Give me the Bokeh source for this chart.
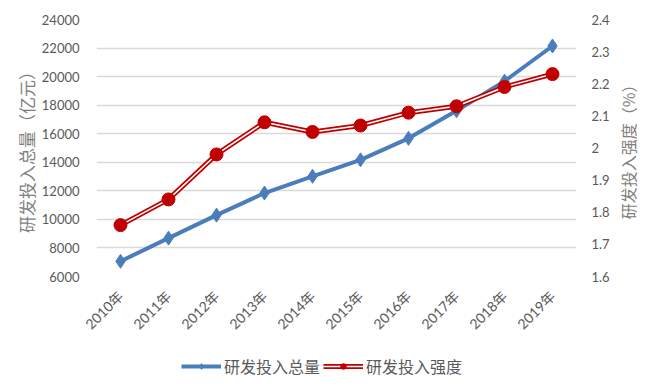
from bokeh.plotting import figure
from bokeh.models import Range1d, LinearAxis, Legend, LegendItem, FactorRange, FixedTicker
from bokeh.layouts import column, row
from bokeh.embed import file_html
from bokeh.resources import INLINE
import math

years = ["2010年", "2011年", "2012年", "2013年", "2014年", "2015年", "2016年", "2017年", "2018年", "2019年"]
total = [7063, 8687, 10298, 11847, 13016, 14170, 15677, 17606, 19678, 22144]
intensity = [1.76, 1.84, 1.98, 2.08, 2.05, 2.07, 2.11, 2.13, 2.19, 2.23]
left_ticks = [6000, 8000, 10000, 12000, 14000, 16000, 18000, 20000, 22000, 24000]
right_ticks = [1.6, 1.7, 1.8, 1.9, 2.0, 2.1, 2.2, 2.3, 2.4]
series_names = ["研发投入总量", "研发投入强度"]

FONT = "Lato, 'Noto Sans CJK SC'"
CJK = "'Noto Sans CJK SC'"
BLUE = "#4A7EBB"
RED = "#C00000"
TICK_C = "#595959"
TITLE_C = "#7F7F7F"

p = figure(width=612, height=350, x_range=FactorRange(*years), y_range=Range1d(6000, 24000),
           output_backend="svg", toolbar_location=None,
           min_border_left=96, min_border_right=36, min_border_top=19, min_border_bottom=74)
p.outline_line_color = None
p.extra_y_ranges = {"r": Range1d(1.6, 2.4)}


def style_axis(a, size="13px"):
    a.axis_line_color = None
    a.major_tick_line_color = None
    a.minor_tick_line_color = None
    a.major_label_text_font = FONT
    a.major_label_text_font_size = size
    a.major_label_text_color = TICK_C
    a.axis_label_text_font = CJK
    a.axis_label_text_font_size = "17px"
    a.axis_label_text_font_style = "normal"
    a.axis_label_text_color = TITLE_C


ax = p.yaxis[0]
ax.ticker = FixedTicker(ticks=left_ticks)
ax.axis_label = "研发投入总量（亿元）"
style_axis(ax)
ax.major_label_standoff = 11
ax.axis_label_standoff = 0

rax = LinearAxis(y_range_name="r", ticker=FixedTicker(ticks=right_ticks))
style_axis(rax)
rax.major_label_standoff = 9
p.add_layout(rax, "right")

xa = p.xaxis[0]
style_axis(xa, "14px")
xa.major_label_orientation = math.pi / 4
xa.major_label_standoff = 11

p.xgrid.grid_line_color = None
p.ygrid.grid_line_color = "#D9D9D9"
p.ygrid.grid_line_width = 1.5


def draw(fig):
    bl = fig.line(years, total, line_color=BLUE, line_width=4)
    bm = fig.scatter(years, total, marker="diamond", size=14, fill_color=BLUE, line_color=BLUE)
    ro = fig.line(years, intensity, y_range_name="r", line_color=RED, line_width=5)
    ri = fig.line(years, intensity, y_range_name="r", line_color="white", line_width=1.5)
    rm = fig.scatter(years, intensity, y_range_name="r", marker="circle", size=13, fill_color=RED, line_color=RED)
    return [bl, bm], [ro, ri, rm]


draw(p)

# narrow strip on the right carrying the right-hand axis title (reads bottom-to-top)
tf = figure(width=38, height=350, x_range=Range1d(0, 1), y_range=Range1d(1.6, 2.4),
            output_backend="svg", toolbar_location=None, x_axis_type=None,
            min_border_left=21, min_border_right=0, min_border_top=19, min_border_bottom=74)
tf.outline_line_color = None
tf.grid.grid_line_color = None
tya = tf.yaxis[0]
style_axis(tya)
tya.ticker = FixedTicker(ticks=[])
tya.major_tick_out = 0
tya.major_label_standoff = 0
tya.axis_label = "研发投入强度（%）"
tya.axis_label_text_font_size = "16px"
tya.axis_label_standoff = 0

# legend strip below the chart (its own series lie outside its ranges, so only the legend shows)
lg = figure(width=650, height=42, x_range=FactorRange(*years), y_range=Range1d(0, 1),
            output_backend="svg", toolbar_location=None, x_axis_type=None, y_axis_type=None,
            min_border_left=96, min_border_right=0, min_border_top=0, min_border_bottom=0)
lg.outline_line_color = None
lg.grid.grid_line_color = None
lg.extra_y_ranges = {"r": Range1d(0, 1)}
b_r, r_r = draw(lg)

legend = Legend(items=[LegendItem(label=series_names[0], renderers=b_r),
                       LegendItem(label=series_names[1], renderers=r_r)],
                orientation="horizontal", location=(85, 14),
                background_fill_alpha=0, border_line_color=None,
                label_text_font=CJK, label_text_font_size="16px", label_text_color=TICK_C,
                glyph_width=40, glyph_height=14, spacing=3, label_standoff=3, padding=0, margin=0)
lg.add_layout(legend, "center")

open("out.html", "w").write(file_html(column(row(p, tf), lg), INLINE))
